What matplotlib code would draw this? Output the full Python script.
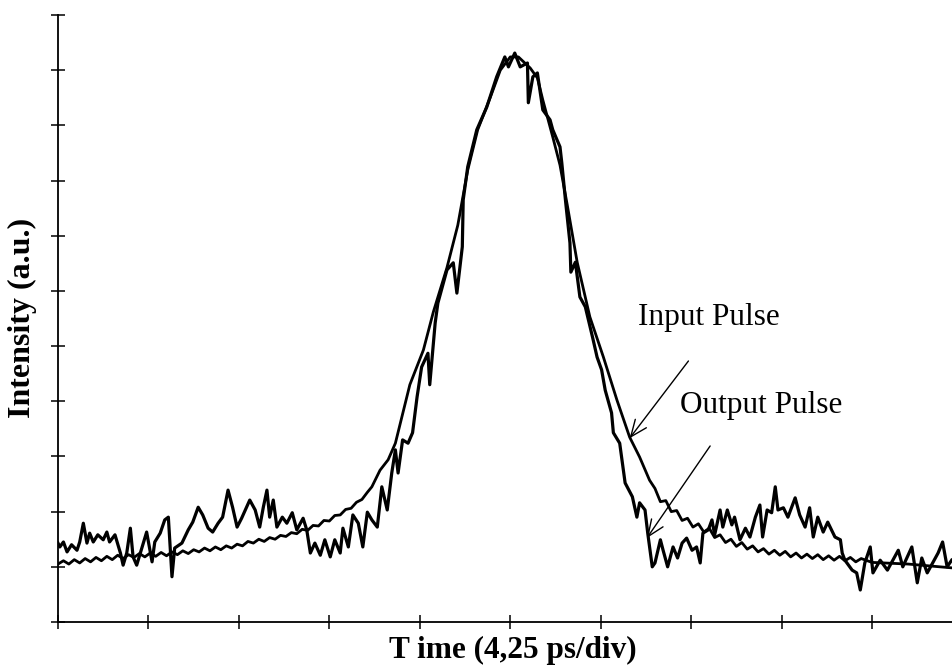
import matplotlib
matplotlib.use("Agg")
import matplotlib.pyplot as plt

# Ablesungen aus dem Bild: Zeit in Teilungen (4,25 ps/div), Intensitaet in a.u.
input_t = [0.00, 0.06, 0.12, 0.18, 0.24, 0.30, 0.36, 0.42, 0.48, 0.54,
           0.60, 0.66, 0.72, 0.78, 0.84, 0.90, 0.96, 1.02, 1.08, 1.14,
           1.20, 1.26, 1.32, 1.38, 1.44, 1.50, 1.56, 1.62, 1.68, 1.74,
           1.80, 1.86, 1.92, 1.98, 2.04, 2.10, 2.16, 2.22, 2.28, 2.34,
           2.40, 2.46, 2.52, 2.58, 2.64, 2.70, 2.76, 2.82, 2.88, 2.94,
           3.00, 3.06, 3.12, 3.18, 3.24, 3.30, 3.36, 3.42, 3.47, 3.56,
           3.65, 3.73, 3.78, 3.89, 4.04, 4.15, 4.30, 4.42, 4.53, 4.64,
           4.78, 4.89, 5.00, 5.09, 5.22, 5.30, 5.36, 5.47, 5.55, 5.63,
           5.74, 5.88, 6.03, 6.18, 6.32, 6.43, 6.54, 6.60, 6.66, 6.72,
           6.78, 6.84, 6.90, 6.96, 7.02, 7.08, 7.14, 7.20, 7.26, 7.32,
           7.38, 7.44, 7.50, 7.56, 7.62, 7.68, 7.74, 7.80, 7.86, 7.92,
           7.98, 8.04, 8.10, 8.16, 8.22, 8.28, 8.34, 8.40, 8.46, 8.52,
           8.58, 8.64, 8.70, 8.76, 8.82, 8.88, 9.00, 9.40, 9.89]
input_i = [1.05, 1.11, 1.05, 1.13, 1.07, 1.15, 1.09, 1.17, 1.11, 1.19,
           1.13, 1.21, 1.15, 1.22, 1.17, 1.24, 1.18, 1.25, 1.19, 1.26,
           1.20, 1.27, 1.22, 1.29, 1.24, 1.31, 1.27, 1.34, 1.29, 1.36,
           1.31, 1.38, 1.34, 1.41, 1.38, 1.46, 1.43, 1.50, 1.46, 1.53,
           1.50, 1.57, 1.55, 1.62, 1.60, 1.68, 1.66, 1.75, 1.74, 1.84,
           1.83, 1.93, 1.94, 2.04, 2.06, 2.17, 2.22, 2.35, 2.45, 2.75,
           2.94, 3.24, 3.57, 4.30, 4.93, 5.62, 6.42, 7.19, 8.19, 8.92,
           9.51, 10.00, 10.24, 10.24, 10.04, 9.86, 9.46, 8.79, 8.28, 7.56,
           6.52, 5.53, 4.80, 4.02, 3.35, 2.99, 2.57, 2.42, 2.18, 2.20,
           2.00, 2.02, 1.84, 1.88, 1.72, 1.78, 1.63, 1.70, 1.53, 1.58,
           1.44, 1.50, 1.37, 1.44, 1.32, 1.38, 1.27, 1.33, 1.23, 1.30,
           1.21, 1.28, 1.18, 1.25, 1.16, 1.23, 1.15, 1.22, 1.13, 1.20,
           1.12, 1.19, 1.11, 1.17, 1.09, 1.15, 1.08, 1.05, 0.98]

output_t = [0.00, 0.02, 0.06, 0.10, 0.15, 0.21, 0.24, 0.28, 0.32, 0.35,
            0.39, 0.44, 0.50, 0.54, 0.57, 0.63, 0.69, 0.72, 0.76, 0.80,
            0.83, 0.87, 0.93, 0.98, 1.04, 1.07, 1.13, 1.18, 1.22, 1.26,
            1.29, 1.37, 1.44, 1.49, 1.55, 1.60, 1.66, 1.71, 1.77, 1.82,
            1.88, 1.93, 1.98, 2.03, 2.12, 2.18, 2.23, 2.27, 2.31, 2.34,
            2.38, 2.42, 2.48, 2.53, 2.59, 2.64, 2.71, 2.75, 2.79, 2.84,
            2.90, 2.95, 3.01, 3.06, 3.12, 3.15, 3.21, 3.26, 3.32, 3.37,
            3.42, 3.47, 3.53, 3.58, 3.64, 3.69, 3.73, 3.76, 3.81, 3.87,
            3.92, 3.97, 4.02, 4.09, 4.11, 4.17, 4.20, 4.30, 4.37, 4.41,
            4.47, 4.48, 4.53, 4.63, 4.74, 4.85, 4.94, 4.98, 5.05, 5.11,
            5.19, 5.20, 5.25, 5.30, 5.36, 5.44, 5.47, 5.55, 5.57, 5.61,
            5.66, 5.67, 5.72, 5.77, 5.83, 5.91, 5.96, 6.01, 6.05, 6.12,
            6.14, 6.21, 6.27, 6.35, 6.40, 6.43, 6.49, 6.52, 6.57, 6.60,
            6.66, 6.69, 6.74, 6.80, 6.85, 6.90, 6.95, 7.01, 7.06, 7.10,
            7.13, 7.19, 7.23, 7.26, 7.32, 7.35, 7.40, 7.45, 7.48, 7.54,
            7.60, 7.65, 7.71, 7.76, 7.79, 7.84, 7.89, 7.93, 7.96, 8.02,
            8.07, 8.15, 8.20, 8.26, 8.31, 8.35, 8.40, 8.46, 8.51, 8.59,
            8.65, 8.67, 8.70, 8.78, 8.83, 8.87, 8.92, 8.98, 9.01, 9.09,
            9.17, 9.23, 9.29, 9.34, 9.44, 9.50, 9.55, 9.61, 9.67, 9.73,
            9.78, 9.83, 9.88]
output_i = [1.43, 1.36, 1.45, 1.27, 1.40, 1.30, 1.45, 1.79, 1.43, 1.61,
            1.45, 1.58, 1.49, 1.63, 1.45, 1.58, 1.25, 1.03, 1.25, 1.70,
            1.18, 1.03, 1.36, 1.63, 1.09, 1.45, 1.61, 1.85, 1.90, 0.82,
            1.34, 1.43, 1.67, 1.81, 2.08, 1.94, 1.70, 1.63, 1.79, 1.90,
            2.39, 2.08, 1.72, 1.88, 2.21, 2.03, 1.72, 2.08, 2.39, 1.90,
            2.21, 1.72, 1.90, 1.79, 1.98, 1.67, 1.88, 1.67, 1.25, 1.43,
            1.21, 1.49, 1.18, 1.49, 1.25, 1.70, 1.36, 1.94, 1.79, 1.36,
            1.99, 1.85, 1.72, 2.45, 2.03, 2.70, 3.12, 2.70, 3.30, 3.24,
            3.43, 4.08, 4.62, 4.87, 4.30, 5.42, 5.78, 6.38, 6.51, 5.96,
            6.80, 7.65, 8.25, 8.92, 9.33, 9.88, 10.24, 10.06, 10.31, 10.06,
            10.13, 9.41, 9.88, 9.95, 9.28, 9.10, 8.92, 8.61, 8.32, 7.65,
            6.87, 6.34, 6.52, 5.89, 5.71, 5.16, 4.80, 4.57, 4.20, 3.79,
            3.43, 3.24, 2.52, 2.27, 1.90, 2.16, 2.03, 1.61, 1.00, 1.07,
            1.49, 1.30, 1.00, 1.36, 1.16, 1.43, 1.52, 1.30, 1.36, 1.07,
            1.61, 1.67, 1.85, 1.58, 2.03, 1.72, 2.03, 1.76, 1.90, 1.49,
            1.70, 1.54, 1.90, 2.12, 1.54, 2.03, 1.98, 2.45, 2.03, 2.07,
            1.90, 2.25, 1.94, 1.72, 2.07, 1.54, 1.90, 1.63, 1.81, 1.54,
            1.49, 1.25, 1.12, 0.94, 0.89, 0.58, 1.07, 1.36, 0.89, 1.12,
            0.94, 1.12, 1.30, 1.00, 1.36, 0.71, 1.16, 0.89, 1.07, 1.25,
            1.45, 1.00, 1.12]

x_ticks = list(range(10))
y_ticks = list(range(12))

SERIF = ["Liberation Serif", "DejaVu Serif"]


def main():
    fig = plt.figure(figsize=(9.53, 6.65), dpi=100)
    ax = fig.add_axes([58 / 953, 43 / 665, 895 / 953, 607 / 665])

    ax.plot(input_t, input_i, color="black", lw=2.0, solid_joinstyle="round")
    ax.plot(output_t, output_i, color="black", lw=2.3, solid_joinstyle="round")

    ax.set_xlim(0, 9.895)
    ax.set_ylim(0, 11)
    ax.set_xticks(x_ticks)
    ax.set_yticks(y_ticks)
    ax.set_xticklabels([])
    ax.set_yticklabels([])
    ax.tick_params(direction="inout", length=10, width=1.1, color="black")

    for side in ("top", "right"):
        ax.spines[side].set_visible(False)
    for side in ("left", "bottom"):
        ax.spines[side].set_linewidth(1.3)

    # Beschriftungen mit Pfeilen
    ax.text(6.41, 5.38, "Input Pulse", family=SERIF, fontsize=22.5, va="baseline")
    ax.text(6.88, 3.79, "Output Pulse", family=SERIF, fontsize=22.5, va="baseline")
    arrow = dict(arrowstyle="->,head_length=0.6,head_width=0.25", lw=1.0,
                 color="black", shrinkA=0, shrinkB=0, mutation_scale=20)
    ax.annotate("", xy=(6.32, 3.33), xytext=(6.97, 4.73), arrowprops=arrow)
    ax.annotate("", xy=(6.51, 1.52), xytext=(7.21, 3.19), arrowprops=arrow)

    fig.text(513 / 953, 1 - 650 / 665, "T ime (4,25 ps/div)", family=SERIF,
             fontsize=22.5, fontweight="bold", ha="center", va="center")
    fig.text(22 / 953, 1 - 318 / 665, "Intensity (a.u.)", family=SERIF,
             fontsize=23, fontweight="bold", ha="center", va="center",
             rotation=90)

    fig.savefig("out.png", dpi=100)


if __name__ == "__main__":
    main()
